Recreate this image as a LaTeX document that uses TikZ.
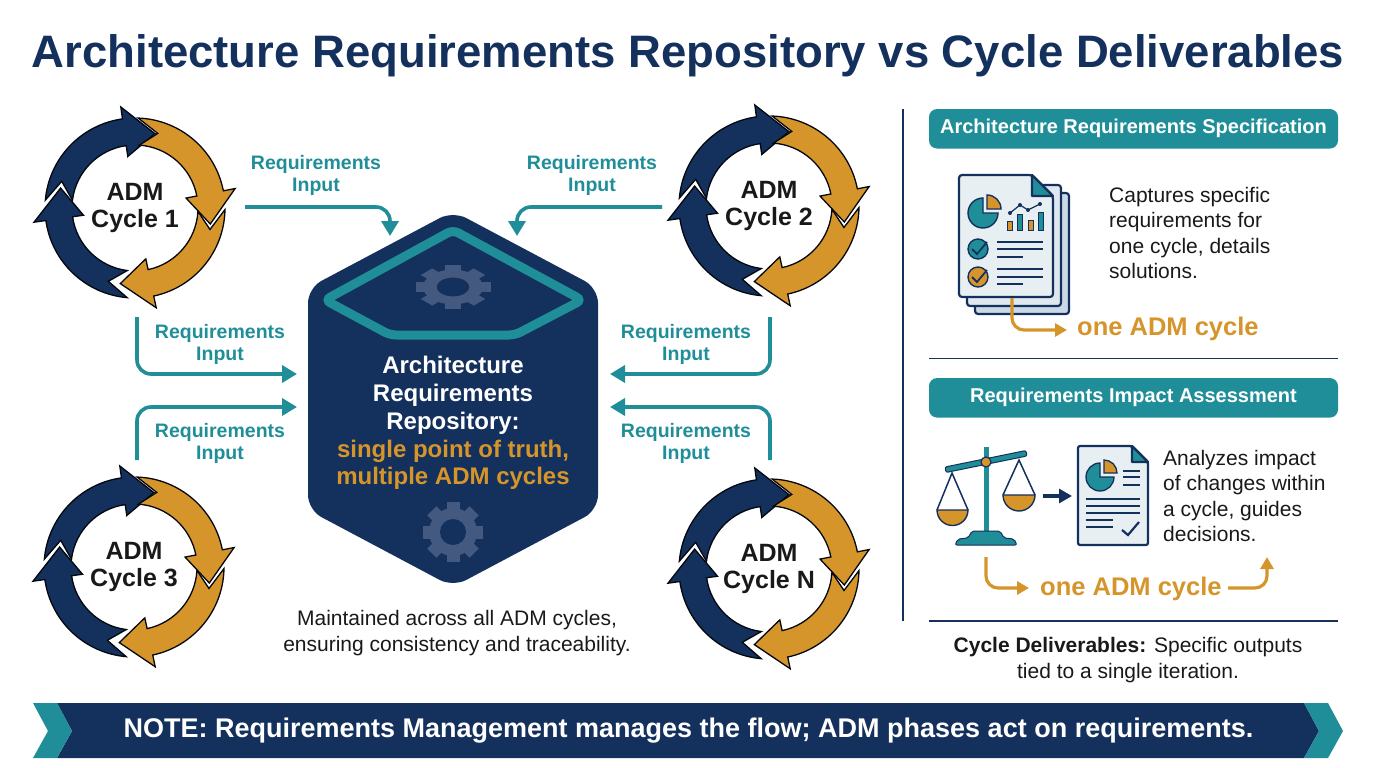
\documentclass[tikz,border=0pt]{standalone}
\usepackage{xcolor}
\usepackage{fontspec}
\usepackage{tikz}
\usetikzlibrary{arrows.meta}
\setmainfont{Liberation Sans}

\definecolor{navyc}{HTML}{14305C}
\definecolor{tealc}{HTML}{1F8E99}
\definecolor{orangec}{HTML}{D6952B}
\definecolor{gearc}{HTML}{43597F}
\definecolor{pagec}{HTML}{E8EFF3}
\definecolor{backc}{HTML}{C9D9E5}

\tikzset{
    cyclearrow/.style={draw=black!85!navyc, line width=1.3pt, line join=miter},
    cyclelabel/.style={font=\fontsize{25}{27}\selectfont\bfseries, align=center, text=black!90},
    reqlabel/.style={font=\fontsize{19.5}{22}\selectfont\bfseries, align=center, text=tealc},
    reqarrow/.style={draw=tealc, line width=3.6pt, rounded corners=14pt, -{Triangle[width=17pt,length=15pt]}},
    goldarrow/.style={draw=orangec, line width=3.2pt, rounded corners=12pt, -{Triangle[width=13pt,length=12pt]}},
    goldlabel/.style={font=\fontsize{25.5}{28}\selectfont\bfseries, text=orangec},
    bodytext/.style={font=\fontsize{21}{25.2}\selectfont, text=black!90},
    banner/.style={fill=tealc, rounded corners=8pt, minimum width=409pt, minimum height=39.5pt, inner sep=0pt,
        text=white, font=\fontsize{20}{24}\selectfont\bfseries},
    rule/.style={draw=navyc, line width=1.3pt},
    paper/.style={draw=navyc, line width=2.2pt, line join=round},
    ink/.style={draw=navyc, line width=2.2pt},
    gearpic/.pic={% cog wheel
        \foreach \a in {0,45,...,315}
            \fill[gearc, rotate=\a] (-6.5pt,0pt) rectangle (6.5pt,30pt);
        \fill[gearc] (0pt,0pt) circle (24pt);
        \fill[navyc] (0pt,0pt) circle (13pt);
    }
}

\newcommand{\admarrow}[2]{% one arrow of a cycle
    \draw[cyclearrow, fill=#2, rotate=#1] (175:90pt) arc[start angle=175,end angle=98,radius=90pt]
    -- (98:102pt) -- (75:77pt) -- (98:52pt) -- (98:63pt)
    arc[start angle=98,end angle=173,radius=63pt] -- (160:78pt) -- cycle;
}
\newcommand{\admcycle}[3]{% ring of four arrows with its label
    \begin{scope}[shift={(#1)}]
        \admarrow{0}{navyc}
        \admarrow{-87}{orangec}
        \admarrow{-176}{orangec}
        \admarrow{-270}{navyc}
    \end{scope}
    \node[cyclelabel] (#3) at (#1) {ADM\\#2};
}

\begin{document}
\begin{tikzpicture}[x=1pt,y=-1pt]
    \useasboundingbox (0,0) rectangle (1376,768);

    \node[font=\fontsize{45.5}{50}\selectfont\bfseries, text=navyc] (title) at (688,56)
    {Architecture Requirements Repository vs Cycle Deliverables};

    \admcycle{135,208}{Cycle 1}{cycleone}
    \admcycle{769,206}{Cycle 2}{cycletwo}
    \admcycle{134,567}{Cycle 3}{cyclethree}
    \admcycle{769,569}{Cycle N}{cyclen}

    % repository hexagon
    \fill[navyc, rounded corners=15pt] (453,211) -- (598,288) -- (598,510) -- (453,587) -- (308,510) -- (308,288) -- cycle;
    \draw[tealc, line width=9pt, rounded corners=6pt] (453,230) -- (582,300) -- (515,335) -- (390,335) -- (325,300) -- cycle;
    \pic[yscale=.72, xscale=1.25] at (453,287) {gearpic};
    \pic at (453,532) {gearpic};
    \node[font=\fontsize{24}{27.8}\selectfont\bfseries, align=center, text=white] (repo) at (453,423)
    {Architecture\\Requirements\\Repository:\\\textcolor{orangec}{single point of truth,}\\\textcolor{orangec}{multiple ADM cycles}};
    \node[bodytext, align=center] (maintained) at (457,633)
    {Maintained across all ADM cycles,\\ensuring consistency and traceability.};

    % inputs
    \node[reqlabel] (reqa) at (316,175) {Requirements\\Input};
    \node[reqlabel] (reqb) at (592,175) {Requirements\\Input};
    \node[reqlabel] (reqc) at (220,344) {Requirements\\Input};
    \node[reqlabel] (reqd) at (686,344) {Requirements\\Input};
    \node[reqlabel] (reqe) at (220,443) {Requirements\\Input};
    \node[reqlabel] (reqf) at (686,443) {Requirements\\Input};

    \coordinate (outa) at (245,207);
    \coordinate (outb) at (662,207);
    \coordinate (outc) at (137,317);
    \coordinate (outd) at (770,317);
    \coordinate (oute) at (137,460);
    \coordinate (outf) at (770,460);
    \coordinate (ina) at (390,236);
    \coordinate (inb) at (517,236);
    \coordinate (inc) at (297,374);
    \coordinate (ind) at (610,374);
    \coordinate (ine) at (297,407);
    \coordinate (inf) at (610,407);
    \draw[reqarrow] (outa) -| (ina);
    \draw[reqarrow] (outb) -| (inb);
    \draw[reqarrow] (outc) |- (inc);
    \draw[reqarrow] (outd) |- (ind);
    \draw[reqarrow] (oute) |- (ine);
    \draw[reqarrow] (outf) |- (inf);

    % right panel
    \draw[rule] (903,109) -- (903,621);
    \draw[rule] (929,358.5) -- (1338,358.5);
    \draw[rule] (929,621) -- (1338,621);
    \node[banner] (spec) at (1133.5,128.8) {Architecture Requirements Specification};
    \node[banner] (impact) at (1133.5,397.8) {Requirements Impact Assessment};

    % stacked pages
    \draw[paper, fill=backc, rounded corners=3pt] (975,193) -- (1069,193) -- (1069,314) -- (975,314) -- cycle;
    \draw[paper, fill=pagec!70!backc, rounded corners=3pt] (967,185) -- (1061,185) -- (1061,306) -- (967,306) -- cycle;
    \draw[paper, fill=pagec, rounded corners=3pt] (959,175) -- (1032,175) -- (1053,196) -- (1053,297) -- (959,297) -- cycle;
    \draw[paper, fill=tealc] (1032,175) -- (1053,196) -- (1032,196) -- cycle;
    \draw[navyc, line width=1.4pt, fill=tealc] (983,213) -- ++(90:15pt) arc[start angle=90,end angle=360,radius=15pt] -- cycle;
    \draw[navyc, line width=1.4pt, fill=orangec] (987,209) -- ++(90:14pt) arc[start angle=90,end angle=0,radius=14pt] -- cycle;
    \foreach \x/\t/\c in {1007/221/orangec,1017/214/tealc,1028/220/orangec,1038/212/tealc}
        \draw[navyc, line width=1pt, fill=\c] (\x,\t) rectangle (\x+5.5,230);
    \draw[navyc, line width=1.2pt] (1010,213) -- (1020,205) -- (1028,210) -- (1040,204);
    \foreach \x/\y in {1010/213,1020/205,1028/210,1040/204}
        \fill[navyc] (\x,\y) circle (2pt);
    \draw[navyc, line width=1.4pt, fill=tealc] (978,249) circle (10pt);
    \draw[navyc, line width=1.4pt, fill=orangec] (978,277) circle (10pt);
    \draw[navyc, line width=1.8pt] (972,249) -- (977,254) -- (987,242);
    \draw[navyc, line width=1.8pt] (972,277) -- (977,282) -- (987,270);
    \draw[ink] (997,242) -- (1043,242) (997,249) -- (1043,249) (997,257) -- (1023,257);
    \draw[ink] (997,269) -- (1043,269) (997,277) -- (1043,277) (997,284) -- (1023,284);

    \coordinate (pagefoot) at (1012,298);
    \node[goldlabel, anchor=west, inner sep=0pt] (goldone) at (1077,329) {one ADM cycle};
    \coordinate (goldin) at (1067,330);
    \draw[goldarrow] (pagefoot) |- (goldin);
    \node[bodytext, anchor=west, align=left, inner sep=0pt] (capture) at (1109,233)
    {Captures specific\\requirements for\\one cycle, details\\solutions.};

    % scales
    \draw[tealc, line width=5pt] (986,447) -- (986,540);
    \draw[draw=navyc, line width=1pt, fill=tealc, rounded corners=2pt] (945,467) -- (1026,450.5) -- (1027,456) -- (946,472.5) -- cycle;
    \draw[navyc, line width=1.5pt] (937,510) -- (952,473) -- (968,510);
    \draw[navyc, line width=1.5pt] (1003,495) -- (1019,460) -- (1035,495);
    \draw[navyc, line width=1.4pt, fill=orangec] (937,510) arc[start angle=180,end angle=360,radius=15.5pt] -- cycle;
    \draw[navyc, line width=1.4pt, fill=orangec] (1003,495) arc[start angle=180,end angle=360,radius=16pt] -- cycle;
    \draw[navyc, line width=1.2pt, fill=orangec] (986,462) circle (5pt);
    \draw[navyc, line width=1pt, fill=tealc, rounded corners=2pt] (955,545) -- (958,539) -- (968,538) -- (972,531) -- (1000,531) -- (1004,538) -- (1014,539) -- (1017,545) -- cycle;

    \coordinate (scaleout) at (1043,496);
    \coordinate (reportin) at (1072,496);
    \draw[navyc, line width=3.2pt, -{Triangle[width=14pt,length=13pt]}] (scaleout) -- (reportin);

    % report page
    \draw[paper, fill=pagec, rounded corners=2pt] (1078,446) -- (1132,446) -- (1148,462) -- (1148,545) -- (1078,545) -- cycle;
    \draw[paper, fill=tealc] (1132,446) -- (1148,462) -- (1132,462) -- cycle;
    \draw[navyc, line width=1.3pt, fill=tealc] (1100,477) -- ++(90:14pt) arc[start angle=90,end angle=360,radius=14pt] -- cycle;
    \draw[navyc, line width=1.3pt, fill=orangec] (1104,473) -- ++(90:13pt) arc[start angle=90,end angle=0,radius=13pt] -- cycle;
    \draw[ink] (1123,471) -- (1140,471) (1123,477) -- (1140,477) (1123,485) -- (1140,485);
    \draw[ink] (1086,499) -- (1140,499) (1086,506) -- (1140,506) (1086,513) -- (1140,513);
    \draw[ink] (1086,520) -- (1113,520) (1086,527) -- (1113,527);
    \draw[ink] (1122,530) -- (1128,535) -- (1139,522);

    \node[bodytext, anchor=west, align=left, inner sep=0pt] (analyze) at (1163,496)
    {Analyzes impact\\of changes within\\a cycle, guides\\decisions.};

    \node[goldlabel, anchor=west, inner sep=0pt] (goldtwo) at (1040,589) {one ADM cycle};
    \coordinate (scalefoot) at (986,557);
    \coordinate (goldleft) at (1029,588);
    \coordinate (goldright) at (1228,588);
    \coordinate (goldup) at (1267,557);
    \draw[goldarrow] (scalefoot) |- (goldleft);
    \draw[goldarrow] (goldright) -| (goldup);

    \node[bodytext, align=center] (deliver) at (1128,660)
    {\textbf{Cycle Deliverables:} Specific outputs\\tied to a single iteration.};

    % note band
    \fill[navyc] (57,703) -- (1304,703) -- (1319,731) -- (1304,758) -- (57,758) -- (72,731) -- cycle;
    \fill[tealc] (33,703) -- (57,703) -- (72,731) -- (57,758) -- (33,758) -- (48,731) -- cycle;
    \fill[tealc] (1304,703) -- (1328,703) -- (1343,731) -- (1328,758) -- (1304,758) -- (1319,731) -- cycle;
    \node[font=\fontsize{27}{30}\selectfont\bfseries, text=white] (note) at (688.5,731)
    {NOTE: Requirements Management manages the flow; ADM phases act on requirements.};
\end{tikzpicture}
\end{document}
